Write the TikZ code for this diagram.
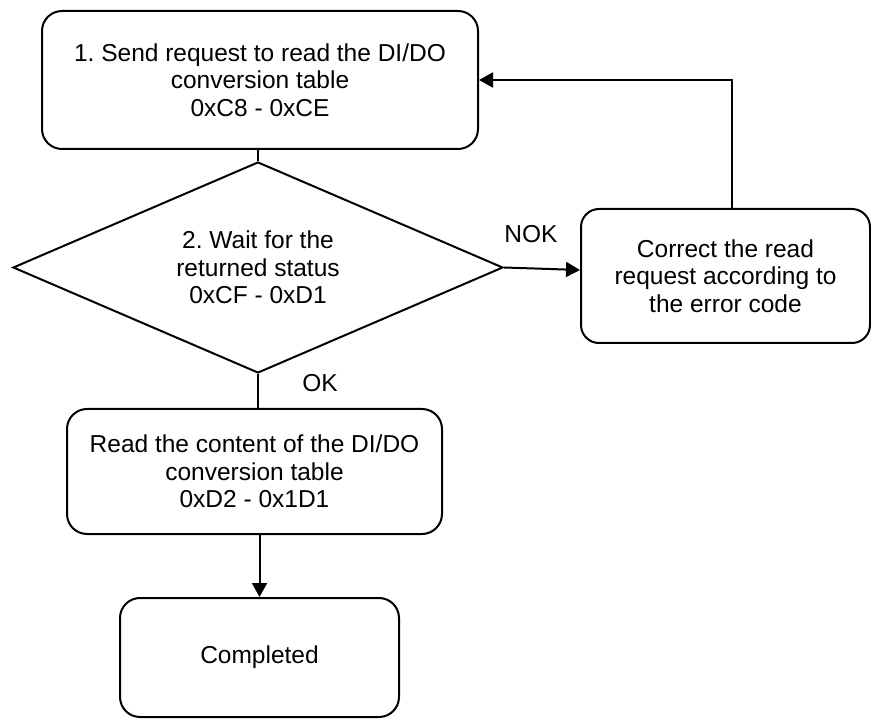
\documentclass[tikz,border=0pt]{standalone}
\usepackage{fontspec}
\setmainfont{Liberation Sans}
\usetikzlibrary{shapes.geometric,arrows.meta}
\begin{document}
\frenchspacing
\begin{tikzpicture}[x=1pt,y=-1pt,
  every node/.style={font=\fontsize{24.5}{27.5}\selectfont, align=center, inner sep=0pt},
  procbox/.style={draw, line width=2pt, rounded corners=20pt, rectangle},
  decision/.style={draw, line width=2pt, diamond, aspect=2.32},
  conn/.style={line width=2pt},
  arr/.style={conn, -{Triangle[length=14pt,width=15pt]}},
  lbl/.style={font=\fontsize{24.5}{27.5}\selectfont}
]
\useasboundingbox (0,0) rectangle (871,719);
\node[procbox, minimum width=436pt, minimum height=138pt] (b1) at (260,80)
  {1. Send request to read the DI/DO\\conversion table\\0xC8 - 0xCE};
\node[decision, minimum width=490pt, minimum height=211pt] (d) at (258,267.5)
  {2. Wait for the\\returned status\\0xCF - 0xD1};
\node[procbox, rounded corners=18pt, minimum width=289pt, minimum height=134pt] (b3) at (725.5,276)
  {Correct the read\\request according to\\the error code};
\node[procbox, minimum width=375pt, minimum height=125pt] (b4) at (254.5,471.5)
  {Read the content of the DI/DO\\conversion table\\0xD2 - 0x1D1};
\node[procbox, minimum width=279pt, minimum height=119pt] (b5) at (259.5,657.5)
  {Completed};
\node[lbl] (nok) at (531,234) {NOK};
\node[lbl] (ok) at (320,383) {OK};
\draw[conn] (b1.south -| d.north) -- (d.north);
\draw[arr] (d.east) -- ([yshift=6pt]b3.west);
\draw[arr] ([xshift=6.5pt]b3.north) |- (b1.east);
\draw[conn] (d.south) -- (d.south |- b4.north);
\draw[arr] (b4.south -| b5.north) -- (b5.north);
\end{tikzpicture}
\end{document}
